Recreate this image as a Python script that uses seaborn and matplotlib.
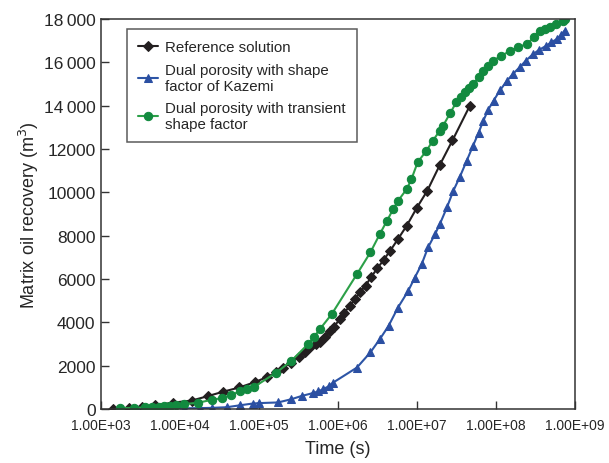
import numpy as np
import pandas as pd
import matplotlib
matplotlib.use("Agg")
import matplotlib.pyplot as plt
import seaborn as sns

# --- valores (log10 del tiempo, recuperacion en m3) ---
ref_logt = [3.15, 3.35, 3.52, 3.68, 3.91, 4.15, 4.35, 4.54, 4.75, 4.95, 5.10, 5.22,
            5.30, 5.40, 5.50, 5.58, 5.65, 5.72, 5.77, 5.83, 5.90, 5.95, 6.02, 6.08,
            6.15, 6.22, 6.28, 6.35, 6.42, 6.50, 6.58, 6.66, 6.76, 6.87, 7.00, 7.13,
            7.29, 7.45, 7.67]
ref_rec = [30, 50, 90, 180, 300, 400, 600, 800, 1000, 1250, 1480, 1700,
           1900, 2150, 2400, 2650, 2850, 3000, 3100, 3350, 3600, 3800, 4150, 4450,
           4770, 5100, 5400, 5700, 6100, 6500, 6900, 7300, 7850, 8460, 9300, 10070,
           11270, 12400, 14000]

kaz_logt = [3.24, 3.45, 3.65, 3.85, 4.05, 4.25, 4.40, 4.59, 4.76, 4.92, 5.00, 5.24,
            5.41, 5.54, 5.68, 5.75, 5.81, 5.88, 5.94, 6.24, 6.41, 6.53, 6.64, 6.76,
            6.89, 6.97, 7.06, 7.14, 7.23, 7.29, 7.38, 7.46, 7.54, 7.63, 7.71, 7.78,
            7.84, 7.90, 7.97, 8.05, 8.14, 8.22, 8.30, 8.38, 8.47, 8.55, 8.64, 8.70,
            8.77, 8.82, 8.87]
kaz_rec = [10, 15, 20, 30, 40, 50, 60, 90, 180, 260, 280, 310,
           460, 610, 740, 820, 920, 1050, 1230, 1920, 2620, 3230, 3840, 4690,
           5460, 6050, 6690, 7460, 8080, 8540, 9310, 10070, 10690, 11460, 12150, 12750,
           13300, 13800, 14230, 14700, 15150, 15480, 15770, 16080, 16380, 16580, 16770, 16920,
           17070, 17250, 17460]

tra_logt = [3.24, 3.42, 3.55, 3.65, 3.73, 3.80, 3.87, 3.95, 4.05, 4.23, 4.40, 4.53,
            4.65, 4.76, 4.85, 4.93, 5.22, 5.41, 5.62, 5.70, 5.77, 5.92, 6.24, 6.41,
            6.53, 6.62, 6.70, 6.76, 6.87, 6.93, 7.01, 7.12, 7.20, 7.29, 7.33, 7.42,
            7.50, 7.56, 7.61, 7.66, 7.71, 7.78, 7.84, 7.90, 7.96, 8.07, 8.18, 8.28,
            8.39, 8.48, 8.56, 8.62, 8.68, 8.76, 8.85, 8.87]
tra_rec = [50, 60, 80, 100, 120, 140, 160, 190, 230, 300, 430, 510,
           650, 840, 930, 1010, 1690, 2230, 3000, 3350, 3690, 4380, 6230, 7230,
           8080, 8690, 9230, 9610, 10150, 10610, 11400, 11920, 12380, 12850, 13070, 13650,
           14170, 14420, 14630, 14820, 15000, 15300, 15610, 15850, 16070, 16300, 16530, 16700,
           16840, 17150, 17460, 17550, 17630, 17780, 17920, 18000]

y_ticks = [0, 2000, 4000, 6000, 8000, 10000, 12000, 14000, 16000, 18000]
y_labels = ["0", "2000", "4000", "6000", "8000", "10000", "12000",
            "14\u2009000", "16\u2009000", "18\u2009000"]
x_ticks = [1e3, 1e4, 1e5, 1e6, 1e7, 1e8, 1e9]
x_labels = ["1.00E+03", "1.00E+04", "1.00E+05", "1.00E+06",
            "1.00E+07", "1.00E+08", "1.00E+09"]

# --- grafico ---
sns.set_style("ticks")
plt.rcParams["font.family"] = ["Liberation Sans", "DejaVu Sans"]

fig = plt.figure(figsize=(6.09, 4.64), dpi=100)
ax = fig.add_axes([0.166, 0.116, 0.778, 0.841])

series = [
    ("Reference solution", ref_logt, ref_rec, "#231f20", "#231f20", "D", 4.8),
    ("Dual porosity with shape\nfactor of Kazemi", kaz_logt, kaz_rec, "#2d55a6", "#2b4fa2", "^", 6),
    ("Dual porosity with transient\nshape factor", tra_logt, tra_rec, "#2ca048", "#128a3f", "o", 6),
]
for name, lt, rec, lc, mc, mk, ms in series:
    df = pd.DataFrame({"t": np.power(10.0, lt), "rec": rec})
    sns.lineplot(data=df, x="t", y="rec", ax=ax, color=lc, linewidth=1.5,
                 marker=mk, markersize=ms, markerfacecolor=mc, markeredgecolor=mc,
                 label=name, sort=False)

ax.set_xscale("log")
ax.set_xlim(1e3, 1e9)
ax.set_ylim(0, 18000)
ax.set_xticks(x_ticks)
ax.set_xticklabels(x_labels, fontsize=10)
ax.minorticks_off()
ax.set_yticks(y_ticks)
ax.set_yticklabels(y_labels, fontsize=12.5)
ax.tick_params(direction="in", length=6, width=1, color="#333333", pad=4)
ax.tick_params(axis="x", pad=6)
for s in ax.spines.values():
    s.set_visible(True)
    s.set_color("#333333")
    s.set_linewidth(1.1)

ax.set_xlabel("Time (s)", fontsize=13, labelpad=6)
ax.set_ylabel("Matrix oil recovery (m$^3$)", fontsize=13, labelpad=2)

leg = ax.legend(loc="upper left", bbox_to_anchor=(0.055, 0.974), borderaxespad=0,
                fontsize=10.8, frameon=True, fancybox=False, handlelength=1.3,
                handletextpad=0.5, borderpad=0.75, labelspacing=0.55)
leg.get_frame().set_edgecolor("#333333")
leg.get_frame().set_linewidth(1.1)

fig.savefig("out.png", dpi=100)
